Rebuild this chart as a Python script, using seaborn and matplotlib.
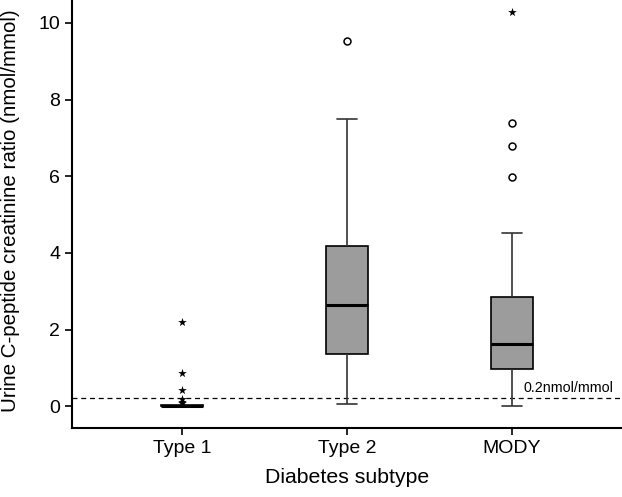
import pandas as pd
import matplotlib.pyplot as plt
import seaborn as sns

# Box summaries: lower whisker, Q1, median, Q3, upper whisker
subtypes = ["Type 1", "Type 2", "MODY"]
type1_box = [0.0, 0.0, 0.01, 0.02, 0.04]
type2_box = [0.05, 1.36, 2.64, 4.18, 7.49]
mody_box = [0.0, 0.97, 1.62, 2.85, 4.52]

# Outliers: circles (mild) and stars (extreme)
mild_group = ["Type 2", "MODY", "MODY", "MODY"]
mild_value = [9.52, 7.38, 6.8, 5.97]
extreme_group = ["Type 1", "Type 1", "Type 1", "Type 1", "Type 1", "Type 1", "MODY"]
extreme_value = [2.2, 0.86, 0.42, 0.18, 0.12, 0.07, 10.28]

threshold = 0.2
yticks = [0, 2, 4, 6, 8, 10]

box_df = pd.DataFrame({
    "subtype": ["Type 1"] * 5 + ["Type 2"] * 5 + ["MODY"] * 5,
    "ratio": type1_box + type2_box + mody_box,
})
mild_df = pd.DataFrame({"subtype": mild_group, "ratio": mild_value})
extreme_df = pd.DataFrame({"subtype": extreme_group, "ratio": extreme_value})

sns.set_style("ticks")
plt.rcParams["font.family"] = ["Liberation Sans", "DejaVu Sans"]
plt.rcParams["text.color"] = "black"
plt.rcParams["axes.labelcolor"] = "black"
plt.rcParams["xtick.color"] = "black"
plt.rcParams["ytick.color"] = "black"

fig = plt.figure(figsize=(6.22, 4.97), dpi=100)
ax = fig.add_axes([72 / 622, 69 / 497, 1 - 72 / 622, 1 - 69 / 497])

sns.boxplot(
    data=box_df, x="subtype", y="ratio", order=subtypes, ax=ax,
    color="#9c9c9c", width=0.25, whis=(0, 100), showfliers=False,
    boxprops=dict(edgecolor="black", linewidth=1.2),
    whiskerprops=dict(color="#333333", linewidth=1.2),
    capprops=dict(color="#333333", linewidth=1.2),
    medianprops=dict(color="black", linewidth=2.2),
    saturation=1,
)
sns.stripplot(
    data=mild_df, x="subtype", y="ratio", order=subtypes, ax=ax,
    jitter=False, marker="o", size=5, facecolor="white",
    edgecolor="black", linewidth=1.1,
)
sns.stripplot(
    data=extreme_df, x="subtype", y="ratio", order=subtypes, ax=ax,
    jitter=False, marker="*", size=6.5, color="black", linewidth=0,
)

ax.axhline(threshold, color="black", linestyle=(0, (4, 3)), linewidth=0.9, zorder=0.5)
ax.text(2.07, threshold + 0.08, "0.2nmol/mmol", fontsize=10.3, va="bottom", ha="left")

ax.set_xlim(-0.667, 2.667)
ax.set_ylim(-0.57, 10.6)
ax.set_yticks(yticks)
ax.set_yticklabels([str(t) for t in yticks])
ax.set_xlabel("Diabetes subtype", fontsize=15.3, labelpad=8)
ax.set_ylabel("Urine C-peptide creatinine ratio (nmol/mmol)", fontsize=14.8)
ax.yaxis.set_label_coords(-0.094, 0.508)
ax.tick_params(axis="both", labelsize=14, length=5, width=1.2, color="black")
for side in ["top", "right"]:
    ax.spines[side].set_visible(False)
for side in ["left", "bottom"]:
    ax.spines[side].set_linewidth(1.5)
    ax.spines[side].set_color("black")

fig.savefig("out.png", dpi=100)
